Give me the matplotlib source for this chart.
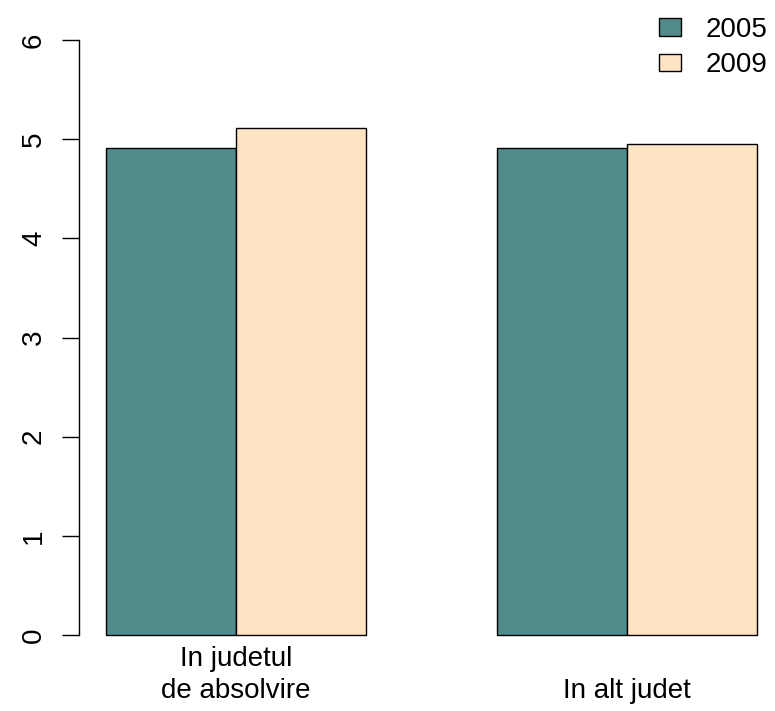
import numpy as np
import matplotlib
matplotlib.use("Agg")
import matplotlib.pyplot as plt
from matplotlib.patches import Patch

plt.rcParams['font.family'] = ['Liberation Sans', 'DejaVu Sans']

groups = ["In judetul\nde absolvire", "\nIn alt judet"]
years = ["2005", "2009"]
v2005 = [4.91, 4.91]
v2009 = [5.11, 4.95]
colors = ["#528B8B", "#FFE4C4"]

W, H = 775, 711
fig = plt.figure(figsize=(W / 100, H / 100), dpi=100)
ax = fig.add_axes([79 / W, 52 / H, (775 - 79) / W, (659 - 16) / H])

starts = 1 + 3 * np.arange(len(groups))
ax.bar(starts + 0.5, v2005, width=1, color=colors[0], edgecolor="black", lw=1.0)
ax.bar(starts + 1.5, v2009, width=1, color=colors[1], edgecolor="black", lw=1.0)

ax.set_xlim(0.793, 6.138)
ax.set_ylim(-0.24, 6.24)

for s in ["top", "right", "bottom"]:
    ax.spines[s].set_visible(False)
ax.spines["left"].set_bounds(0, 6)
ax.spines["left"].set_linewidth(1.0)

ax.set_yticks(range(0, 7))
ax.tick_params(axis="y", length=12, width=1.0, pad=11, labelsize=20)
for lab in ax.get_yticklabels():
    lab.set_rotation(90)
    lab.set_va("center")

ax.set_xticks(starts + 1)
ax.set_xticklabels(groups, fontsize=20, linespacing=1.3)
ax.tick_params(axis="x", length=0, pad=-9)

handles = [Patch(facecolor=c, edgecolor="black", lw=1.0) for c in colors]
fig.legend(handles, years, loc="upper right", bbox_to_anchor=(1.012, 1.0),
           frameon=False, fontsize=20, handlelength=0.8, handleheight=0.6,
           handletextpad=0.9, labelspacing=0.35, borderaxespad=0.2)

fig.savefig("out.png", dpi=100)
